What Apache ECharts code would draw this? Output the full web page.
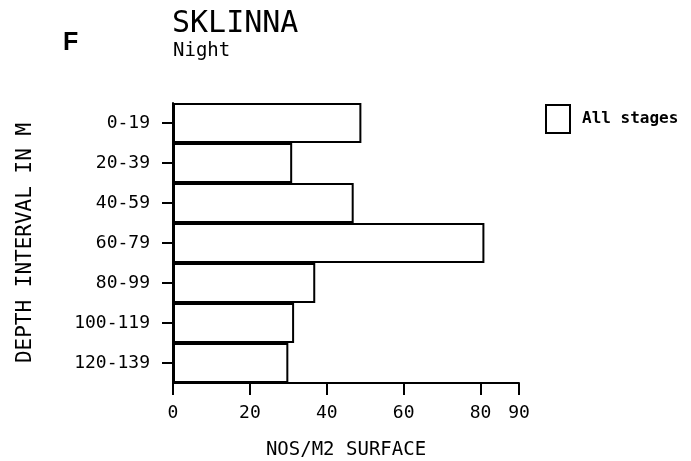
<!DOCTYPE html>
<html>
<head>
<meta charset="utf-8">
<script src="https://cdn.jsdelivr.net/npm/echarts@6/dist/echarts.min.js"></script>
<style>
    html, body { margin: 0; padding: 0; background: #fff; }
    #chart { width: 691px; height: 461px; }
</style>
</head>
<body>
<div id="chart"></div>
<script>
    // depth intervals (top to bottom)
    var depthIntervals = ['0-19', '20-39', '40-59', '60-79', '80-99', '100-119', '120-139'];
    // NOS/M2 surface, all stages
    var allStages = [49, 31, 47, 81, 37, 31.5, 30];
    var xTicks = [0, 20, 40, 60, 80, 90];

    var font = "'DejaVu Sans Mono', 'Liberation Mono', monospace";

    var myChart = echarts.init(document.getElementById('chart'));
    var option = {
        animation: false,
        backgroundColor: '#fff',
        textStyle: { fontFamily: font, color: '#000' },
        title: [
            {
                text: 'F',
                left: 63, top: 31,
                padding: 0,
                textStyle: { fontFamily: 'Liberation Sans, sans-serif', fontSize: 25, fontWeight: 'bold', color: '#000' }
            },
            {
                text: 'SKLINNA',
                left: 172, top: 9,
                padding: 0,
                textStyle: { fontFamily: font, fontSize: 30, fontWeight: 'normal', color: '#000' }
            },
            {
                text: 'Night',
                left: 173, top: 42,
                padding: 0,
                textStyle: { fontFamily: font, fontSize: 19, fontWeight: 'normal', color: '#000' }
            }
        ],
        legend: {
            left: 545, top: 104,
            padding: 0,
            icon: 'rect',
            itemWidth: 24,
            itemHeight: 28,
            textStyle: { fontFamily: font, fontSize: 16, fontWeight: 'bold', color: '#000', padding: [0, 0, 0, 7] },
            itemStyle: { color: '#fff', borderColor: '#000', borderWidth: 2 },
            data: ['All stages']
        },
        grid: {
            left: 173,
            top: 103,
            right: 172,
            bottom: 78,
            containLabel: false,
            outerBoundsMode: 'none'
        },
        xAxis: {
            type: 'value',
            min: 0,
            max: 90,
            interval: 10,
            name: 'NOS/M2 SURFACE',
            nameLocation: 'middle',
            nameGap: 58,
            nameTextStyle: { fontFamily: font, fontSize: 19, color: '#000' },
            axisLine: { show: true, lineStyle: { color: '#000', width: 2 } },
            axisTick: {
                show: true,
                length: 12,
                customValues: xTicks,
                lineStyle: { color: '#000', width: 2 }
            },
            axisLabel: {
                customValues: xTicks,
                margin: 21,
                fontFamily: font,
                fontSize: 18,
                color: '#000'
            },
            splitLine: { show: false }
        },
        yAxis: {
            type: 'category',
            data: depthIntervals,
            inverse: true,
            name: 'DEPTH INTERVAL IN M',
            nameLocation: 'middle',
            nameGap: 137,
            nameRotate: 90,
            nameTextStyle: { fontFamily: font, fontSize: 21, color: '#000' },
            axisLine: { show: true, lineStyle: { color: '#000', width: 2 } },
            axisTick: {
                show: true,
                alignWithLabel: true,
                length: 11,
                lineStyle: { color: '#000', width: 2 }
            },
            axisLabel: {
                margin: 23,
                fontFamily: font,
                fontSize: 18,
                color: '#000'
            },
            splitLine: { show: false }
        },
        series: [
            {
                name: 'All stages',
                type: 'bar',
                data: allStages,
                barWidth: '100%',
                barCategoryGap: 0,
                itemStyle: { color: '#fff', borderColor: '#000', borderWidth: 2 }
            }
        ]
    };
    myChart.setOption(option);
    window.addEventListener('resize', function () {
        myChart.resize();
    });
</script>
</body>
</html>
